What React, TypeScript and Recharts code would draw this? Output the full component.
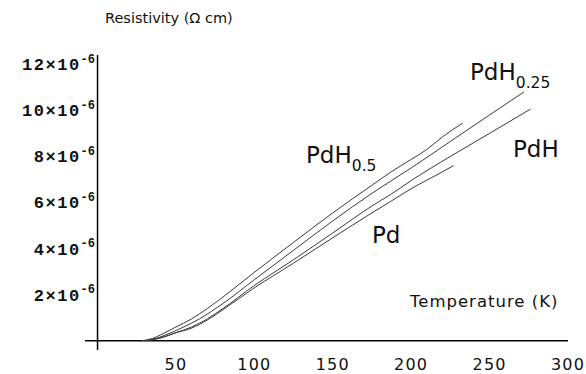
import { Line, LineChart, ReferenceLine, XAxis, YAxis } from "recharts";

// [temperature K, resistivity in 1e-6 ohm cm]
const pdH05 = [
  [28, 0], [35, 0.1], [40, 0.25], [50, 0.6], [60, 0.95], [70, 1.4], [80, 1.9], [100, 2.97],
  [125, 4.27], [150, 5.55], [175, 6.75], [187, 7.32], [200, 7.87], [210, 8.3], [220, 8.85], [233, 9.45],
];
const pdH025 = [
  [30, 0], [38, 0.12], [45, 0.3], [55, 0.6], [65, 0.95], [80, 1.62], [100, 2.65], [125, 3.93],
  [150, 5.2], [175, 6.4], [187, 6.93], [200, 7.5], [225, 8.65], [250, 9.8], [272, 10.8],
];
const pdH = [
  [30, 0], [40, 0.12], [50, 0.35], [60, 0.6], [70, 0.95], [80, 1.4], [100, 2.4], [125, 3.52],
  [150, 4.68], [175, 5.85], [187, 6.35], [200, 6.95], [225, 8.0], [250, 9.0], [276, 10.05],
];
const pd = [
  [32, 0], [40, 0.12], [50, 0.35], [60, 0.55], [70, 0.9], [80, 1.35], [100, 2.3], [125, 3.37],
  [150, 4.47], [175, 5.55], [187, 6.05], [200, 6.6], [215, 7.15], [227, 7.6],
];

const xTicks = [50, 100, 150, 200, 250, 300];
const yTicks = [2, 4, 6, 8, 10, 12];

const toRows = (pts: number[][]) => pts.map(([t, r]) => ({ t, r }));

const series = [pdH05, pdH025, pdH, pd].map(toRows);

function YTick({ y, payload }: any) {
  return (
    <text x={95} y={y} textAnchor="end" fontFamily="Liberation Mono" fontWeight="bold" fontSize={17} fill="#111" letterSpacing={1.5}>
      <tspan dy="0.35em">{payload.value}×10</tspan>
      <tspan dy="-0.6em" fontSize={12} letterSpacing={0}>-6</tspan>
    </text>
  );
}

function XTick({ x, y, payload }: any) {
  return (
    <text x={x} y={y + 12} textAnchor="middle" fontFamily="DejaVu Sans" fontSize={16} fill="#111" letterSpacing={1.2}>
      {payload.value}
    </text>
  );
}

const sans = "DejaVu Sans";

export default function App() {
  return (
    <div style={{ position: "absolute", left: 0, top: 0, width: 586, height: 374, background: "#fff" }}>
      <LineChart width={586} height={374} margin={{ top: 55, right: 18, bottom: 0, left: 0 }}>
        <XAxis
          dataKey="t"
          type="number"
          domain={[-8, 300]}
          ticks={xTicks}
          axisLine={false}
          tickLine={false}
          height={24}
          tick={<XTick />}
          allowDataOverflow
        />
        <YAxis
          type="number"
          domain={[-0.4, 12.4]}
          ticks={yTicks}
          axisLine={false}
          tickLine={false}
          width={85}
          tick={<YTick />}
          allowDataOverflow
        />
        <ReferenceLine x={0} stroke="#000" strokeWidth={1.5} />
        <ReferenceLine y={0} stroke="#000" strokeWidth={1.5} />
        {series.map((d, i) => (
          <Line key={i} data={d} dataKey="r" type="monotone" dot={false} stroke="#3a3a3a" strokeWidth={1} isAnimationActive={false} />
        ))}
      </LineChart>
      <svg width={586} height={374} style={{ position: "absolute", left: 0, top: 0, pointerEvents: "none" }}>
        <text x={105} y={23} fontFamily={sans} fontSize={14.5} fill="#111">Resistivity (Ω cm)</text>
        <text x={410} y={307} fontFamily={sans} fontSize={16.5} fill="#111" letterSpacing={1}>Temperature (K)</text>
        <text x={470} y={80} fontFamily={sans} fontSize={23} fill="#111">
          PdH<tspan dy={8} fontSize={15.5}>0.25</tspan>
        </text>
        <text x={513} y={157} fontFamily={sans} fontSize={23} fill="#111">PdH</text>
        <text x={306} y={163} fontFamily={sans} fontSize={23} fill="#111">
          PdH<tspan dy={8} fontSize={15.5}>0.5</tspan>
        </text>
        <text x={372} y={243} fontFamily={sans} fontSize={23} fill="#111">Pd</text>
      </svg>
    </div>
  );
}
